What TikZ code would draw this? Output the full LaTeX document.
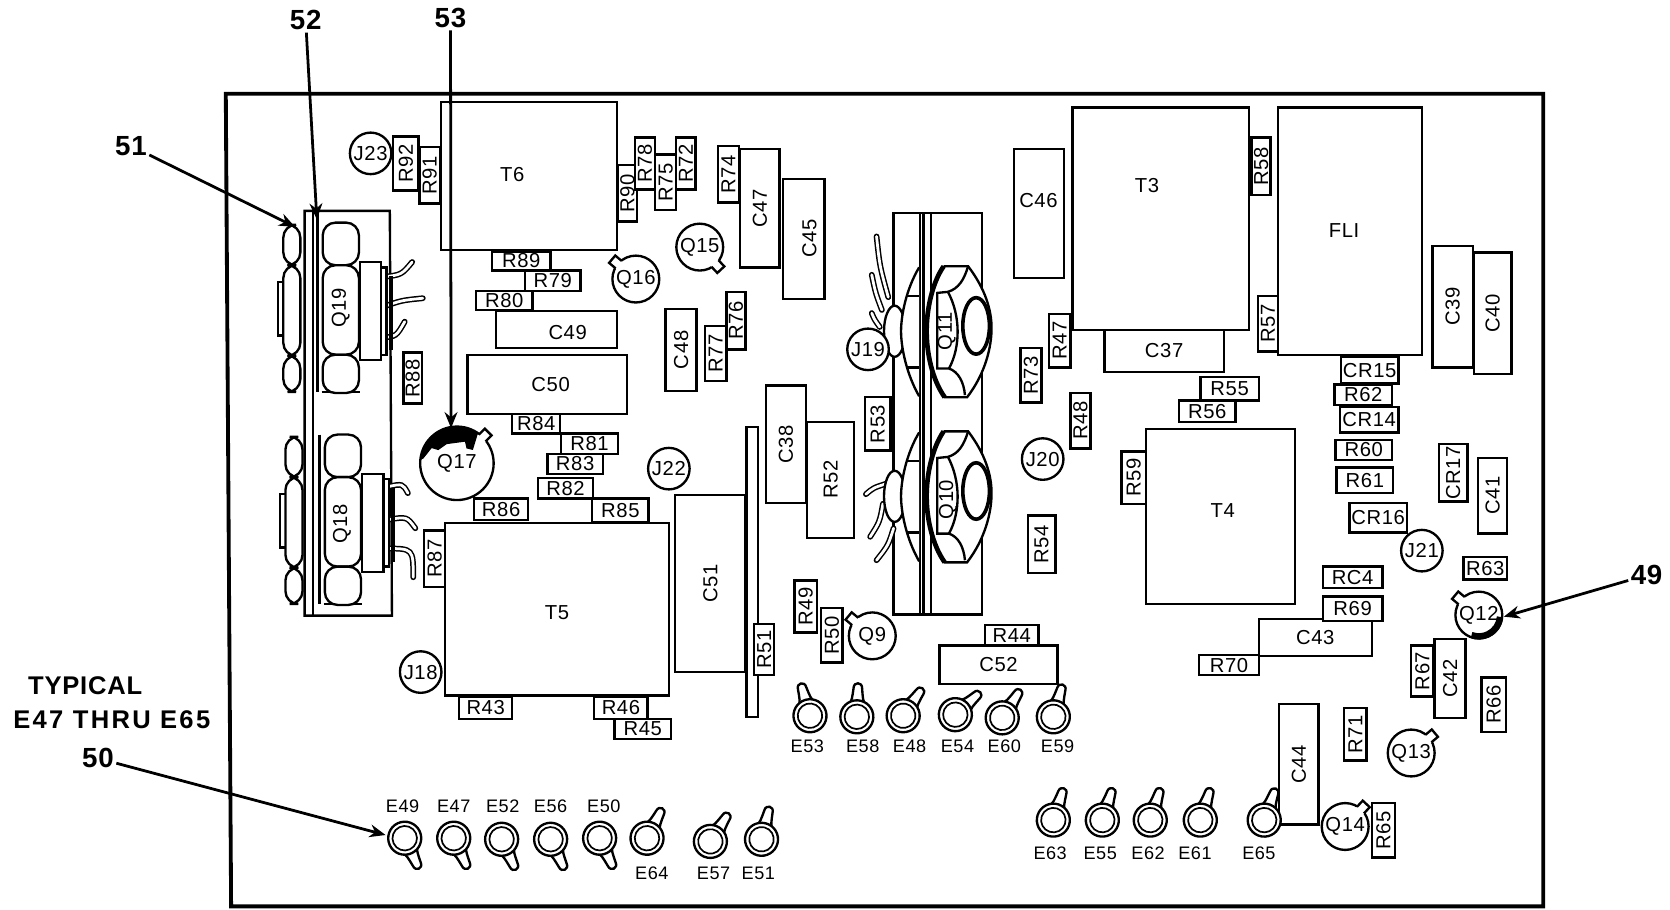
\documentclass[tikz,border=0pt]{standalone}
\usepackage{fontspec}
\usetikzlibrary{arrows.meta}
\setmainfont{Liberation Sans}[LetterSpace=3]
\tikzset{
  >={Stealth[length=7.5pt,width=6pt]},
  part/.style={line width=1.1pt},
  tag/.style={inner sep=0pt,font=\fontsize{9.5}{10}\selectfont},
  hpart/.style 2 args={draw,part,tag,fill=white,minimum width=#1*0.5pt,minimum height=#2*0.5pt},
  vpart/.style 2 args={draw,part,tag,fill=white,rotate=90,minimum width=#1*0.5pt,minimum height=#2*0.5pt},
  jack/.style={draw,part,tag,fill=white,circle,minimum size=19.5pt},
  trans/.style={draw,part,tag,fill=white,circle,minimum size=22pt},
  etag/.style={inner sep=0pt,font=\fontsize{8.5}{9}\selectfont},
  callout/.style={inner sep=1pt,font=\fontsize{13}{14}\selectfont\bfseries},
  pointer/.style={->,line width=1.3pt},
  lead/.style={double=white,double distance=1.3pt,line width=.7pt,line cap=round},
  eyelet/.pic={
    \draw[part,fill=white] (-8,-11) .. controls (-5,-15) and (-5,-18) .. (-4,-27) .. controls (-4,-33) and (4,-33) .. (4,-27) .. controls (5,-18) and (5,-15) .. (8,-11);
    \draw[part,fill=white] (0,0) circle (15.5);
    \draw[line width=.8pt] (0,0) circle (11.5);
  },
  stud/.pic={
    \draw[part,fill=white] (840,0) ellipse (10 and 24);
    \draw[part,fill=white] (863,-60) .. controls (851,-40) and (846,-15) .. (846,0) .. controls (846,15) and (851,40) .. (863,61);
    \draw[part] (852,-33) -- (863,-33) (852,34) -- (863,34);
    \draw[part,fill=white] (886,-61) -- (909,-61) .. controls (925,-40) and (931,-20) .. (931,-3) .. controls (931,15) and (925,40) .. (908,62) -- (887,62) .. controls (875,45) and (870,20) .. (870,0) .. controls (870,-20) and (875,-45) .. (886,-61);
    \draw[line width=2.2pt] (886,-61) .. controls (875,-45) and (870,-20) .. (870,0) .. controls (870,20) and (875,45) .. (887,62);
    \draw[part] (909,-61) .. controls (905,-48) and (900,-40) .. (890,-37) -- (880,-36) -- (880,35) -- (891,35) .. controls (900,38) and (905,48) .. (906,60);
    \draw[part] (890,-37) .. controls (902,-15) and (902,15) .. (891,35);
    \draw[line width=1.7pt] (916.5,-5) ellipse (12.5 and 26.5);
  },
  mount/.pic={
    \draw[line width=1.6pt] (298,-80) -- (298,79);
    \draw[part] (302,79) -- (338,79);
    \draw[part,fill=white,rounded corners=6pt] (266,-78) rectangle (282,-40);
    \draw[part,fill=white,rounded corners=6pt] (266,-40) rectangle (282,45);
    \draw[part,fill=white,rounded corners=6pt] (266,45) rectangle (282,79);
    \draw[part] (266,-24) -- (261,-24) -- (261,26) -- (266,26);
    \draw[part,fill=white,rounded corners=6pt] (303,-80) rectangle (337,-40);
    \draw[part,fill=white,rounded corners=6pt] (303,-40) rectangle (337,44);
    \draw[part,fill=white,rounded corners=6pt] (303,44) rectangle (337,80);
    \draw[part,fill=white] (338,-43) rectangle (358,49);
    \draw[part,fill=white] (358,-38) rectangle (363,44);
    \draw[line width=2.2pt] (367,-30) -- (367,40);
  }
}
\begin{document}
\begin{tikzpicture}[x=0.5pt,y=-0.5pt]
\useasboundingbox[fill=white] (0,0) rectangle (1568,853.5);
\draw[line width=1.8pt] (212,88) -- (1449,88) -- (1449,851) -- (217,851) -- cycle;
\node[hpart={165}{139}] (T6) at (496.5,165.5) {};
\node[tag] (T6t) at (481,164) {T6};
\node[hpart={166}{209}] (T3) at (1090,205.5) {};
\node[tag] (T3t) at (1077,174) {T3};
\node[hpart={135}{232}] (FL1) at (1267.5,217) {};
\node[tag] (FL1t) at (1262,216) {FLI};
\node[hpart={140}{164}] (T4) at (1146,485) {};
\node[tag] (T4t) at (1148,479) {T4};
\node[hpart={210}{162}] (T5) at (523,572) {};
\node[tag] (T5t) at (523,575) {T5};
\node[hpart={47}{121}] (C46) at (975.5,200.5) {};
\node[tag] (C46t) at (975,188) {C46};
\node[hpart={113}{35}] (C49) at (522.5,309.5) {};
\node[tag] (C49t) at (533,312) {C49};
\node[hpart={150}{56}] (C50) at (514,361) {};
\node[tag] (C50t) at (517,361) {C50};
\node[hpart={39}{113}] (C45) at (754.5,224.5) {};
\node[tag,rotate=90] (C45t) at (760,224) {C45};
\node[hpart={112}{39}] (C37) at (1093,329.5) {C37};
\node[hpart={106}{35}] (C43) at (1235,598.5) {C43};
\node[hpart={111}{36}] (C52) at (937.5,624) {C52};
\foreach \n/\x/\y/\w/\h in {R89/489.5/245/55/18,R79/519/263.5/52/19,R80/473.5/282/53/18,R84/503.5/398/45/18,R81/553.5/416.5/53/19,R83/540/435.5/52/19,R82/531/458.5/52/19,R86/470.5/478/51/20,R85/582.5/479/53/22,R43/456/664.5/50/21,R46/583/664.5/50/21,R45/603.5/684.5/53/19,R44/950/596.5/50/19,R55/1154.5/365/55/22,R56/1133.5/386/53/20,CR15/1286/347.5/54/25,R62/1280/370.5/54/19,CR14/1285.5/394/55/24,R60/1280.5/422.5/53/19,R61/1281.5/451/53/24,CR16/1294/486/54/28,R63/1394.5/533.5/41/21,RC4/1270/542/56/20,R69/1270/571.5/56/23,R70/1154/624.5/56/19}
  \node[hpart={\w}{\h}] (\n) at (\x,\y) {\n};
\foreach \n/\x/\y/\w/\h in {R92/381/153.5/51/24,R91/403.5/164.5/53/19,R90/589/181.5/53/18,R78/605.5/153.5/49/19,R75/625/171/52/20,R72/644/153.5/49/18,R74/684/163.5/53/20,R76/691/301/54/18,R77/672/332/52/20,R88/387.5/355/48/17,R87/408/524.5/53/20,R53/824/398/50/24,R47/995/320/50/20,R73/968/352.5/51/20,R48/1014.5/395/52/19,R54/978/511/54/26,R49/756.5/569.5/49/21,R50/781/596.5/51/20,R52/780/450.5/109/44,R58/1184/156/54/18,R57/1190.5/304/52/19,R59/1064.5/448.5/49/23,R67/1335.5/630/48/21,R66/1402.5/661.5/51/23,R71/1272.5/689.5/49/21,R65/1299/779.5/51/22,CR17/1364.5/444/54/27,C47/713.5/195.5/111/37,C48/639.5/328.5/77/29,C38/738/417/110/38,C39/1364/288/114/38,C40/1401.5/294/114/35,C41/1401.5/465.5/71/27,C42/1361.5/637/74/29,C44/1219.5/717.5/113/37,C51/667/548/166/66}
  \node[vpart={\w}{\h}] (\n) at (\x,\y) {\n};
\node[hpart={11}{272}] (strip) at (706.5,537) {};
\node[vpart={48}{19}] (R51) at (717.5,610) {R51};
\node[hpart={25}{377}] (sinkL) at (851.5,388.5) {};
\node[hpart={48}{377}] (sinkR) at (898,388.5) {};
\draw[part] (867,200) -- (867,577);
\draw[part] (864,200) -- (874,200) (864,577) -- (874,577);
\foreach \a/\b/\c/\d/\e/\f in {823/222/826/250/834/279,818.5/258/822/275/828/291,818.5/294/821/300/826/307,813/464/820/458/832.5/454,817/504/826/490/829/473,823/526/834/512/839/496}
  \draw[lead] (\a,\b) .. controls (\c,\d) .. (\e,\f);
\pic at (0,311) {stud};
\pic at (0,466) {stud};
\node[tag,rotate=90] (Q11) at (889,311) {Q11};
\node[tag,rotate=90] (Q10) at (890,469) {Q10};
\node[jack] (J19) at (815,328) {J19};
\node[jack] (J20) at (979,431) {J20};
\node[jack] (J18) at (395,631) {J18};
\node[jack] (J21) at (1335,517) {J21};
\node[jack] (J22) at (628,440) {J22};
\node[jack] (J23) at (348,144) {J23};
\draw[part] (286,578) -- (286,198) -- (366,198) -- (368,578) -- cycle;
\draw[part] (294,198) -- (294,578);
\draw[line width=1.6pt] (298,198) -- (298,212);
\foreach \a/\b/\c/\d/\e/\f in {360/260/377/258/387/246,360/288/377/282/397/280,358/317/372/316/380/302,364/457/378/454/383/463,364/488/382/485/390/496,362/515/388/515/388/542}
  \draw[lead] (\a,\b) .. controls (\c,\d) .. (\e,\f);
\pic at (0,289) {mount};
\pic at (2,488) {mount};
\node[tag,rotate=90] (Q19) at (320,289) {Q19};
\node[tag,rotate=90] (Q18) at (321,492) {Q18};
\node[trans] (Q16) at (597,262) {Q16};
\node[trans] (Q15) at (657,232) {Q15};
\node[trans] (Q9) at (819,597) {Q9};
\node[trans] (Q12) at (1388.5,577.5) {Q12};
\node[trans] (Q13) at (1325,707) {Q13};
\node[trans] (Q14) at (1263,776) {Q14};
\node[draw,part,tag,fill=white,circle,minimum size=34.5pt] (Q17) at (429,435) {Q17};
\foreach \q/\a/\r in {Q16/140/22,Q15/-47/22,Q9/140/22,Q12/140/22,Q13/40/22,Q14/47/22,Q17/45/34.5}{
  \begin{scope}[shift={(\q.center)},rotate=\a]
    \fill[white] (\r-3,-4.5) rectangle (\r+7,4.5);
    \draw[part] (\r-1,-4.5) -- (\r+7,-4.5) -- (\r+7,4.5) -- (\r-1,4.5);
  \end{scope}
}
\fill ([shift={(-175:34.5)}]Q17.center) arc[start angle=-175,end angle=-55,radius=34.5] -- (444,422.5) -- (438,421) -- (436.6,414.7) -- (419.4,417) -- (411.5,422.6) -- (405.3,420.7) -- (397.5,430.5) -- cycle;
\draw[line width=3pt] ([shift={(5:20)}]Q12.center) arc[start angle=5,end angle=110,radius=20];
\foreach \x/\y/\a in {760.5/672/16,804.5/673/-2,848/672/-35,897/671/-48,941/674/-33,989/673/-16,380/787/-155,426/787/-155,471/788/-155,517/788/-155,563/787/-155,607.5/787/-27,667/790/-33,715/788/-14,989/770/-18,1035/770/-18,1080/770/-18,1127/770/-18,1187/770/-20}
  \pic[rotate=\a] at (\x,\y) {eyelet};
\foreach \n/\x/\y in {E53/758/701,E58/810/701,E48/854/701,E54/899/701,E60/943/701,E59/993/701,E49/378/757,E47/426/757,E52/472/757,E56/517/757,E50/567/757,E64/612/820,E57/670/820,E51/712/820,E63/986/801,E55/1033/801,E62/1078/801,E61/1122/801,E65/1182/801}
  \node[etag] (\n) at (\x,\y) {\n};
\node[callout] (n51) at (123,137) {51};
\node[callout] (n52) at (287,19) {52};
\node[callout] (n53) at (423,17) {53};
\node[callout] (n49) at (1546,540) {49};
\node[callout] (n50) at (92,712) {50};
\node[callout,font=\fontsize{12}{13}\selectfont\bfseries] (typical) at (80,644) {TYPICAL};
\node[callout,font=\fontsize{12}{13}\selectfont\bfseries\addfontfeature{LetterSpace=9}] (range) at (105,676) {E47 THRU E65};
\coordinate (tip51) at (277,213);
\coordinate (tip52) at (297.5,206);
\coordinate (tip53) at (423.5,402);
\coordinate (tip49) at (1412,579);
\coordinate (tip50) at (362,784);
\draw[pointer] (n51) -- (tip51);
\draw[pointer] (n52) -- (tip52);
\draw[pointer] (n53) -- (tip53);
\draw[pointer] (n49) -- (tip49);
\draw[pointer] (n50) -- (tip50);
\end{tikzpicture}
\end{document}
